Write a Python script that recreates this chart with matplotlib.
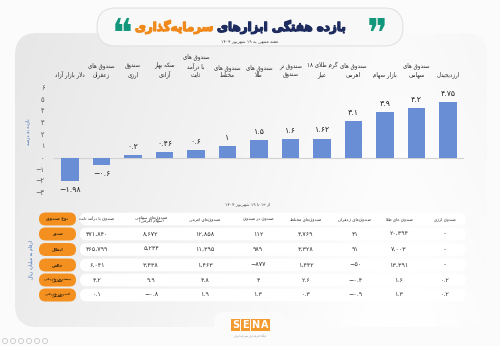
import re
import numpy as np
import matplotlib
matplotlib.use("Agg")
import matplotlib.pyplot as plt
import matplotlib.transforms as mtransforms
import matplotlib.patheffects as pe
from matplotlib.patches import FancyBboxPatch, Rectangle

plt.rcParams["font.family"] = ["DejaVu Sans"]

# ---------------------------------------------------------------- data
categories = [
    "دلار بازار آزاد",
    "صندوق های\nزعفران",
    "صندوق\nارزی",
    "سکه بهار\nآزادی",
    "صندوق های\nبا درآمد\nثابت",
    "صندوق های\nمختلط",
    "صندوق های\nطلا",
    "صندوق در\nصندوق",
    "گرم طلای ۱۸\nعیار",
    "صندوق های\nاهرمی",
    "بازار سهام",
    "صندوق های\nسهامی",
    "ارزدیجیتال",
]
weekly_return = [-1.98, -0.6, 0.2, 0.46, 0.6, 1, 1.5, 1.6, 1.62, 3.1, 3.9, 4.2, 4.75]
y_ticks = [-3, -2, -1, 0, 1, 2, 3, 4, 5, 6]

fund_types = [
    "صندوق با درآمد ثابت",
    "صندوق‌های سهامی\n(سهام اهرمی)",
    "صندوق‌های اهرمی",
    "صندوق در صندوق",
    "صندوق‌های مختلط",
    "صندوق‌های زعفران",
    "صندوق های طلا",
    "صندوق ارزی",
]
row_header = "نوع صندوق"
row_labels = ["صدور", "ابطال", "خالص", "بیشترین بازدهی\nهفتگی", "کمترین بازدهی\nهفتگی"]
issuance = [471840, 8672, 12858, 112, 4769, 41, 20394, None]
redemption = [465799, 5234, 11395, 989, 3328, 91, 7003, None]
net_flow = [6041, 3438, 1463, -877, 1442, -50, 13391, None]
max_return = [4.2, 9.9, 4.8, 4, 2.6, -0.4, 1.6, 0.2]
min_return = [0.1, -0.8, 1.9, 1.3, 0.3, -0.9, 1.3, 0.2]

title_main = "بازده هفتگی ابزارهای"
title_accent = "سرمایه‌گذاری"
subtitle = "هفته منتهی به ۱۹ شهریور ۱۴۰۴"
period_note = "از ۱۳ تا ۱۹ شهریور ۱۴۰۴"
y_title = "بازده به درصد"
table_unit = "ارقام به میلیارد ریال"

# ---------------------------------------------------------------- Persian text shaping
_DUAL = {0x0628: 0xFE8F, 0x062A: 0xFE95, 0x062B: 0xFE99, 0x062C: 0xFE9D,
         0x062D: 0xFEA1, 0x062E: 0xFEA5, 0x0633: 0xFEB1, 0x0634: 0xFEB5,
         0x0635: 0xFEB9, 0x0636: 0xFEBD, 0x0637: 0xFEC1, 0x0638: 0xFEC5,
         0x0639: 0xFEC9, 0x063A: 0xFECD, 0x0641: 0xFED1, 0x0642: 0xFED5,
         0x0644: 0xFEDD, 0x0645: 0xFEE1, 0x0646: 0xFEE5, 0x0647: 0xFEE9,
         0x06A9: 0xFB8E, 0x06AF: 0xFB92, 0x06CC: 0xFBFC, 0x067E: 0xFB56,
         0x0686: 0xFB7A}
_RIGHT = {0x0622: 0xFE81, 0x0627: 0xFE8D, 0x062F: 0xFEA9, 0x0630: 0xFEAB,
          0x0631: 0xFEAD, 0x0632: 0xFEAF, 0x0698: 0xFB8A, 0x0648: 0xFEED}
_MIRROR = str.maketrans("()", ")(")
_FA_DIGITS = str.maketrans("0123456789-", "۰۱۲۳۴۵۶۷۸۹−")


def _is_letter(c):
    return ord(c) in _DUAL or ord(c) in _RIGHT


def _shape(line):
    out = []
    n = len(line)
    i = 0
    while i < n:
        c = line[i]
        o = ord(c)
        link_prev = i > 0 and ord(line[i - 1]) in _DUAL
        if o == 0x0644 and i + 1 < n and line[i + 1] in ("ا", "آ"):
            base = 0xFEFB if line[i + 1] == "ا" else 0xFEF5
            out.append(chr(base + (1 if link_prev else 0)))
            i += 2
            continue
        link_next = o in _DUAL and i + 1 < n and _is_letter(line[i + 1])
        if o in _DUAL:
            form = 3 if (link_prev and link_next) else 2 if link_next else 1 if link_prev else 0
            out.append(chr(_DUAL[o] + form))
        elif o in _RIGHT:
            out.append(chr(_RIGHT[o] + (1 if link_prev else 0)))
        elif o == 0x200C:
            pass
        else:
            out.append(c)
        i += 1
    return "".join(out)


def _visual(line):
    if not any(_is_letter(c) for c in line):
        return line
    s = _shape(line)
    runs = re.findall(r"[0-9۰-۹.,−]+|[^0-9۰-۹.,−]+", s)
    parts = []
    for r in reversed(runs):
        if re.match(r"[0-9۰-۹]", r):
            parts.append(r)
        else:
            parts.append(r[::-1].translate(_MIRROR))
    return "".join(parts)


def fa(text):
    return "\n".join(_visual(l) for l in text.split("\n"))


def fnum(v, thousands=False):
    if v is None:
        return "-"
    s = f"{v:,}" if thousands else f"{v:g}"
    return s.translate(_FA_DIGITS)


# ---------------------------------------------------------------- figure
fig = plt.figure(figsize=(5.0, 3.46), dpi=100)
fig.patch.set_facecolor("#fbfbfb")

bg = fig.add_axes([0, 0, 1, 1])
bg.set_xlim(0, 500)
bg.set_ylim(346, 0)
bg.axis("off")

# main panel with soft gradient
panel = FancyBboxPatch((15, 33), 472, 294, boxstyle="round,pad=0,rounding_size=22",
                       fc="none", ec="none", transform=bg.transData)
bg.add_patch(panel)
gx = np.linspace(0, 1, 200)
gy = np.linspace(0, 1, 120)
GX, GY = np.meshgrid(gx, gy)
shade = 0.905 + 0.075 * np.clip(GX * 1.3, 0, 1) + 0.02 * GY - 0.02 * np.clip(GX - 0.85, 0, 1) * 4
grad = np.dstack([shade, shade, shade])
im = bg.imshow(grad, extent=(15, 487, 327, 33), origin="upper", aspect="auto", zorder=1)
im.set_clip_path(panel)

# white notch behind the logo
bg.add_patch(FancyBboxPatch((214, 312), 72, 40, boxstyle="round,pad=0,rounding_size=10",
                            fc="#fbfbfb", ec="none", zorder=2))

# title pill
bg.add_patch(FancyBboxPatch((97, 8), 306, 38, boxstyle="round,pad=0,rounding_size=19",
                            fc="#f8f8f8", ec="#e2e2e2", lw=0.8, zorder=3))
t1 = bg.text(217, 27, fa(title_main), ha="left", va="center", fontsize=8.6,
             fontweight="bold", color="#1d2b5f", zorder=4)
t1.set_path_effects([pe.withStroke(linewidth=0.9, foreground="#1d2b5f")])
t2 = bg.text(213, 27, fa(title_accent), ha="right", va="center", fontsize=8.6,
             fontweight="bold", color="#f08a1d", zorder=4)
t2.set_path_effects([pe.withStroke(linewidth=0.9, foreground="#f08a1d")])
bg.text(122, 35, "\u275D", ha="center", va="center", fontsize=28,
        color="#13977c", zorder=4)
bg.text(377, 35, "\u275E", ha="center", va="center", fontsize=28,
        color="#13977c", zorder=4)
bg.text(250, 42, fa(subtitle), ha="center", va="center", fontsize=3.2, color="#333333", zorder=4)

# ---------------------------------------------------------------- bar chart
ax = fig.add_axes([54.25 / 500, 1 - 192.6 / 346, 409.5 / 500, 105.3 / 346])
ax.set_facecolor("none")
ax.set_zorder(5)
x = np.arange(len(categories))
bars = ax.bar(x, weekly_return, width=0.55, color="#6a8ed6", zorder=3)
ax.axhline(0, color="#d2d2d2", lw=0.8, zorder=2)
ax.set_xlim(-0.5, len(categories) - 0.5)
ax.set_ylim(y_ticks[0], y_ticks[-1])
ax.set_yticks(y_ticks)
ax.set_yticklabels([fnum(t) for t in y_ticks], fontsize=4.8, color="#555555")
ax.tick_params(axis="y", length=0, pad=7)
ax.set_xticks([])
for s in ax.spines.values():
    s.set_visible(False)

for xi, v in zip(x, weekly_return):
    ax.annotate(fnum(v), (xi, v), xytext=(0, 3 if v >= 0 else -3),
                textcoords="offset points", ha="center",
                va="bottom" if v >= 0 else "top", fontsize=5.6, color="#222222")

top = mtransforms.blended_transform_factory(ax.transData, ax.transAxes)
for xi, lab in zip(x, categories):
    ax.annotate(fa(lab), (xi, 1.0), xycoords=top, xytext=(0, 7), textcoords="offset points",
                ha="center", va="bottom", fontsize=4.0, color="#2a2a2a", linespacing=1.35,
                annotation_clip=False)

bg.text(28, 132, fa(y_title), rotation=90, ha="center", va="center", fontsize=3.3,
        color="#3d6db5", zorder=4)
bg.text(248, 204, fa(period_note), ha="center", va="center", fontsize=3.2,
        color="#444444", zorder=4)

# ---------------------------------------------------------------- table
col_x = [97, 151, 205, 258, 306, 355, 399, 445]
row_y = [219, 234, 249.5, 265, 280, 295]
table_rows = [issuance, redemption, net_flow, max_return, min_return]
thousand_rows = [True, True, True, False, False]

for ry in row_y:
    bg.add_patch(FancyBboxPatch((80, ry - 6.3), 386, 12.6,
                                boxstyle="round,pad=0,rounding_size=6.3",
                                fc="#ffffff", ec="none", zorder=3))
for ry, lab in zip(row_y, [row_header] + row_labels):
    bg.add_patch(FancyBboxPatch((39, ry - 6.5), 37, 13,
                                boxstyle="round,pad=0,rounding_size=6.5",
                                fc="#f4901f", ec="none", zorder=3))
    two_line = "\n" in lab
    bg.text(57.5, ry, fa(lab), ha="center", va="center", fontsize=2.4 if two_line else 2.9,
            fontweight="bold", color="#3a2810", linespacing=1.0, zorder=4)

for cx, name in zip(col_x, fund_types):
    bg.text(cx, row_y[0], fa(name), ha="center", va="center", fontsize=3.0,
            color="#2a2a2a", linespacing=1.0, zorder=4)

for ry, vals, th in zip(row_y[1:], table_rows, thousand_rows):
    for cx, v in zip(col_x, vals):
        bg.text(cx, ry, fnum(v, th), ha="center", va="center", fontsize=4.6,
                color="#333333", zorder=4)

bg.text(31, 260, fa(table_unit), rotation=90, ha="center", va="center", fontsize=3.3,
        color="#3d6db5", zorder=4)

# ---------------------------------------------------------------- logo and footer
for k, letter in enumerate("SENA"):
    bg.add_patch(Rectangle((231 + k * 9.8, 319), 9.2, 12, fc="#f29a2e", ec="none", zorder=4))
    bg.text(235.6 + k * 9.8, 325.3, letter, ha="center", va="center", fontsize=7,
            fontweight="bold", color="white", zorder=5)
bg.text(250, 336, fa("پایگاه خبری بازار سرمایه ایران"), ha="center", va="center",
        fontsize=1.8, color="#888888", zorder=5)
for k in range(6):
    bg.add_patch(plt.Circle((5 + k * 8, 341), 2.6, fc="none", ec="#c8c8c8", lw=0.6, zorder=4))

fig.savefig("out.png", dpi=100, facecolor=fig.get_facecolor())
